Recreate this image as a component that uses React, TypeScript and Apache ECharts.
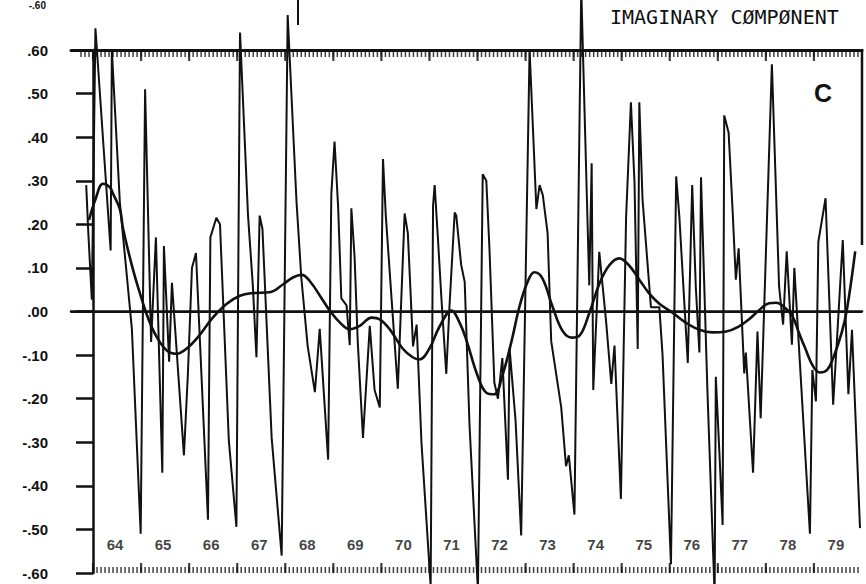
import React, { useEffect, useRef } from 'react';
import * as echarts from 'echarts';

// Months counted from January 1964 (0 = Jan 1964, 12 = Jan 1965, ...)
const imagMonths = [
  -1.7, -1.2, -0.3, 0.6, 4.4, 4.7, 6.7, 9.7, 11.9, 13.0, 14.5, 15.7, 17.3, 17.7, 19.0, 19.7,
  22.7, 23.7, 24.7, 25.7, 28.7, 29.3, 30.8, 31.7, 33.9, 35.8, 36.7, 38.7, 39.9, 40.8, 41.6, 42.3,
  44.6, 47.1, 48.6, 50.8, 52.0, 53.6, 55.4, 56.6, 58.7, 59.5, 60.3, 61.2, 62.0, 63.3, 64.1, 64.5,
  65.3, 66.1, 67.4, 69.1, 70.3, 71.6, 72.4, 73.1, 76.1, 77.8, 78.6, 79.9, 80.8, 82.0, 84.3, 84.9,
  85.3, 86.1, 87.0, 88.2, 89.0, 90.3, 90.7, 91.9, 92.8, 94.0, 96.1, 97.3, 98.2, 99.0, 100.2, 101.1,
  102.2, 103.6, 104.0, 105.5, 106.9, 109.0, 110.7, 111.5, 112.3, 113.5, 114.4, 116.9, 118.1, 118.8, 120.2, 121.9,
  123.9, 124.5, 124.9, 126.4, 128.1, 129.4, 130.2, 131.8, 133.1, 134.3, 135.2, 136.0, 136.4, 137.2, 138.9, 139.3,
  141.4, 142.2, 144.3, 145.6, 146.4, 148.5, 149.6, 150.5, 151.4, 151.8, 153.4, 155.2, 155.5, 156.4, 157.2, 157.6,
  158.7, 159.7, 160.5, 161.2, 162.6, 163.0, 164.8, 165.9, 166.7, 169.5, 171.3, 172.3, 173.2, 174.5, 175.1, 179.0,
  179.6, 180.5, 181.1, 182.9, 184.8, 187.2, 188.6, 189.5, 191.5,
];
const imagValues = [
  0.29, 0.185, 0.027, 0.65, 0.14, 0.60, 0.25, -0.04, -0.51, 0.51, -0.07, 0.17, -0.37, 0.15, -0.115, 0.066,
  -0.33, -0.14, 0.10, 0.134, -0.478, 0.17, 0.215, 0.2, -0.295, -0.494, 0.64, 0.22, 0.06, -0.105, 0.22, 0.19,
  -0.29, -0.56, 0.68, 0.253, 0.078, -0.08, -0.185, -0.04, -0.34, 0.27, 0.39, 0.24, 0.03, 0.014, -0.077, 0.237,
  0.126, -0.07, -0.29, -0.033, -0.18, -0.22, 0.35, 0.22, -0.177, 0.225, 0.18, -0.08, -0.03, -0.30, -0.63, 0.243,
  0.29, 0.17, 0.028, -0.143, 0.012, 0.227, 0.22, 0.108, 0.068, -0.26, -0.64, 0.315, 0.30, 0.14, -0.163, -0.20,
  -0.107, -0.386, -0.084, -0.25, -0.514, 0.60, 0.235, 0.29, 0.267, 0.18, -0.068, -0.22, -0.355, -0.33, -0.466, 0.74,
  0.06, 0.34, -0.18, 0.137, -0.022, -0.166, -0.078, -0.43, 0.217, 0.48, 0.296, -0.086, 0.48, 0.257, 0.057, 0.01,
  0.01, -0.1, -0.58, 0.31, 0.217, -0.118, 0.29, 0.057, -0.094, 0.308, -0.18, -0.65, -0.15, -0.325, -0.49, 0.45,
  0.41, 0.23, 0.073, 0.145, -0.142, -0.094, -0.37, -0.046, -0.245, 0.567, 0.057, -0.03, 0.138, -0.076, 0.10, -0.51,
  -0.134, -0.206, 0.16, 0.26, -0.214, 0.164, -0.19, -0.042, -0.497,
];

// Low-frequency trend of the same component
const smoothMonths = [
  -1.0, 0.7, 2.5, 4.2, 5.0, 6.7, 7.5, 9.7, 11.7, 13.7, 16.0, 18.5, 20.9, 23.4, 26.7, 29.9,
  33.4, 36.7, 39.7, 44.1, 47.4, 49.9, 52.1, 54.1, 57.1, 59.1, 61.6, 64.1, 66.6, 69.6, 71.6, 74.1,
  77.3, 79.8, 81.5, 84.0, 86.5, 89.5, 91.5, 93.3, 96.0, 98.3, 100.2, 102.2, 104.5, 106.5, 108.5, 110.2,
  112.2, 114.7, 117.2, 119.5, 121.4, 123.9, 126.4, 128.9, 131.4, 133.9, 136.4, 138.9, 141.4, 144.6,
  148.1, 151.4, 154.6, 158.1, 161.3, 163.8, 166.3, 168.8, 170.6, 172.6, 174.6, 176.3, 177.8, 179.8,
  181.5, 183.3, 184.8, 187.0, 188.3, 190.3,
];
const smoothValues = [
  0.21, 0.26, 0.293, 0.285, 0.27, 0.235, 0.19, 0.106, 0.042, -0.014, -0.06, -0.09, -0.097, -0.085, -0.053, -0.014,
  0.018, 0.036, 0.042, 0.044, 0.062, 0.078, 0.084, 0.07, 0.03, 0.002, -0.025, -0.041, -0.033, -0.014, -0.018, -0.041,
  -0.085, -0.105, -0.11, -0.085, -0.035, 0.002, -0.025, -0.068, -0.147, -0.187, -0.19, -0.147, -0.068, 0.012, 0.068, 0.09,
  0.076, 0.012, -0.044, -0.06, -0.056, -0.004, 0.063, 0.106, 0.122, 0.105, 0.073, 0.041, 0.018, -0.002,
  -0.026, -0.042, -0.048, -0.046, -0.034, -0.018, 0.003, 0.019, 0.02, 0.01, -0.01, -0.05, -0.084, -0.126,
  -0.14, -0.134, -0.107, -0.046, 0.008, 0.138,
];

const yearLabels = ['64', '65', '66', '67', '68', '69', '70', '71', '72', '73', '74', '75', '76', '77', '78', '79'];
const yearLabelMonths = yearLabels.map((_, k) => 12 * k + 5.5);

// Plotter tick rows along the top and bottom frame
const bottomMonthTicks = Array.from({ length: 192 }, (_, i) => i);
const topMonthTicks = Array.from({ length: 195 }, (_, i) => i - 3);
const yearStartTicks = Array.from({ length: 16 }, (_, k) => 12 * k);

const INK = '#111';
const LABEL_FONT = 'Liberation Sans, Arial, sans-serif';

const fmtY = (v: number) => {
  const a = Math.round(Math.abs(v) * 100);
  const s = '.' + String(a).padStart(2, '0');
  return v < -1e-9 ? '-' + s : s;
};

const tickSeries = (months: number[], y: number, w: number, h: number, up: boolean) => ({
  type: 'scatter',
  silent: true,
  clip: false,
  symbol: 'rect',
  symbolSize: [w, h],
  symbolOffset: [0, up ? -h / 2 : h / 2],
  itemStyle: { color: INK },
  data: months.map((m) => [m, y]),
  z: 4,
});

export default function App() {
  const ref = useRef<HTMLDivElement>(null);

  useEffect(() => {
    document.body.style.margin = '0';
    const chart = echarts.init(ref.current!, null, { renderer: 'svg' });
    chart.setOption({
      animation: false,
      backgroundColor: '#ffffff',
      grid: { left: 71, right: 4, top: 50, bottom: 11 },
      xAxis: [
        {
          type: 'value',
          min: -5.5,
          max: 192,
          position: 'bottom',
          axisLine: { show: true, lineStyle: { color: INK, width: 2.5 } },
          axisTick: { show: false },
          axisLabel: { show: false },
          splitLine: { show: false },
        },
        {
          type: 'value',
          min: -5.5,
          max: 192,
          position: 'top',
          axisLine: { show: true, lineStyle: { color: INK, width: 3 } },
          axisTick: { show: false },
          axisLabel: { show: false },
          splitLine: { show: false },
        },
      ],
      yAxis: {
        type: 'value',
        min: -0.6,
        max: 0.6,
        interval: 0.1,
        axisLine: { show: true, lineStyle: { color: INK, width: 2.5 } },
        axisTick: { show: true, inside: false, length: 17, lineStyle: { color: INK, width: 2.5 } },
        axisLabel: {
          margin: 23,
          formatter: fmtY,
          color: INK,
          fontFamily: LABEL_FONT,
          fontWeight: 'bold',
          fontSize: 15,
        },
        splitLine: { show: false },
      },
      series: [
        {
          name: 'imaginary',
          type: 'line',
          clip: false,
          symbol: 'none',
          lineStyle: { color: INK, width: 2 },
          data: imagMonths.map((m, i) => [m, imagValues[i]]),
          z: 3,
        },
        {
          name: 'trend',
          type: 'line',
          clip: false,
          smooth: 0.4,
          symbol: 'none',
          lineStyle: { color: INK, width: 2.6 },
          data: smoothMonths.map((m, i) => [m, smoothValues[i]]),
          markLine: {
            silent: true,
            symbol: 'none',
            label: { show: false },
            lineStyle: { color: INK, width: 2, type: 'solid' },
            data: [{ yAxis: 0 }],
          },
          z: 3,
        },
        tickSeries(bottomMonthTicks, -0.6, 1.5, 6, true),
        tickSeries(yearStartTicks, -0.6, 2.2, 10, true),
        tickSeries(topMonthTicks, 0.6, 1.5, 7, false),
        tickSeries(yearStartTicks, 0.6, 2.2, 11, false),
        {
          name: 'years',
          type: 'scatter',
          silent: true,
          symbolSize: 0,
          data: yearLabelMonths.map((m) => [m, -0.535]),
          label: {
            show: true,
            position: 'inside',
            formatter: (p: any) => yearLabels[p.dataIndex],
            color: INK,
            fontFamily: LABEL_FONT,
            fontWeight: 'bold',
            fontSize: 15,
          },
          z: 5,
        },
      ],
      graphic: [
        {
          type: 'text',
          left: 610,
          top: 7,
          style: {
            text: 'IMAGINARY CØMPØNENT',
            fill: INK,
            font: '20px "DejaVu Sans Mono", monospace',
          },
        },
        {
          type: 'text',
          left: 814,
          top: 80,
          style: {
            text: 'C',
            fill: INK,
            font: 'bold 25px "Liberation Sans", Arial, sans-serif',
          },
        },
        {
          type: 'text',
          x: 46,
          y: 0,
          style: {
            text: '-.60',
            fill: INK,
            textAlign: 'right',
            textVerticalAlign: 'top',
            font: 'bold 10px "Liberation Sans", Arial, sans-serif',
          },
        },
        {
          type: 'line',
          shape: { x1: 862, y1: 49, x2: 862, y2: 245 },
          style: { stroke: INK, lineWidth: 2.5 },
        },
        {
          type: 'line',
          shape: { x1: 298, y1: 0, x2: 298, y2: 25 },
          style: { stroke: INK, lineWidth: 2 },
        },
      ],
    });
    return () => chart.dispose();
  }, []);

  return (
    <div
      ref={ref}
      style={{ width: 866, height: 584, position: 'absolute', left: 0, top: 0, background: '#fff' }}
    />
  );
}
